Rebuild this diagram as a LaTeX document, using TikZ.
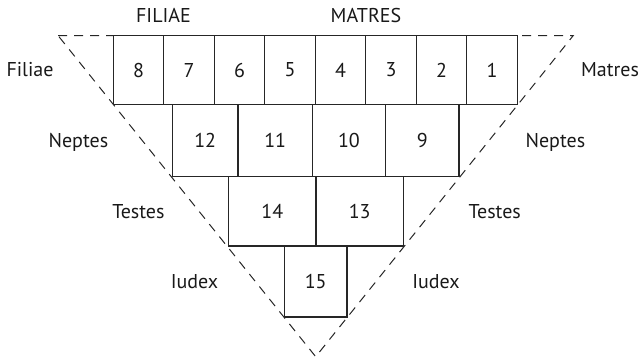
\documentclass[tikz,border=0pt]{standalone}
\usepackage{fontspec}
\setmainfont{PT Sans}
\begin{document}
\begin{tikzpicture}[x=1pt,y=-1pt,
  cell/.style={draw=black!85, line width=1.2pt, rectangle, inner sep=0pt, fill=white,
    font=\fontsize{20}{24}\selectfont, text=black!90},
  lab/.style={anchor=base, inner sep=0pt, font=\fontsize{20}{24}\selectfont, text=black!90},
  tri/.style={draw=black!85, line width=1pt, dash pattern=on 9pt off 7pt}]
\useasboundingbox (0,0) rectangle (643,362);
% dashed triangle
\coordinate (tl) at (58,35.5);
\coordinate (tr) at (573.3,35.5);
\coordinate (ap) at (315.7,356.7);
\draw[tri] (tl) -- (tr) -- (ap) -- cycle;
% row 1
\foreach \i/\x in {8/138.55,7/189.05,6/239.55,5/290.05,4/340.55,3/391.05,2/441.55,1/492.05}{
  \node[cell, minimum width=50.5pt, minimum height=69.2pt] (c\i) at (\x,70.1) {\i};
}
% row 2
\node[cell, minimum width=65.7pt, minimum height=72pt] (c12) at (205.15,140.7) {12};
\node[cell, minimum width=74.3pt, minimum height=72pt] (c11) at (275.15,140.7) {11};
\node[cell, minimum width=73.2pt, minimum height=72pt] (c10) at (348.9,140.7) {10};
\node[cell, minimum width=73.5pt, minimum height=72pt] (c9) at (422.25,140.7) {9};
% row 3
\node[cell, minimum width=87.4pt, minimum height=69.3pt] (c14) at (272.3,211.35) {14};
\node[cell, minimum width=87.3pt, minimum height=69.3pt] (c13) at (359.65,211.35) {13};
% row 4
\node[cell, minimum width=62.7pt, minimum height=71pt] (c15) at (315.65,281.5) {15};
% titles
\node[lab] (tF) at (163.5,22.7) {FILIAE};
\node[lab] (tM) at (366,22.7) {MATRES};
% side labels
\node[lab] (lF) at (30,76.7) {Filiae};
\node[lab] (rM) at (610,76.7) {Matres};
\node[lab] (lN) at (78.4,147.7) {Neptes};
\node[lab] (rN) at (555.4,147.7) {Neptes};
\node[lab] (lT) at (138.4,218.7) {Testes};
\node[lab] (rT) at (494.7,218.7) {Testes};
\node[lab] (lI) at (194.5,288.7) {Iudex};
\node[lab] (rI) at (436,288.7) {Iudex};
\end{tikzpicture}
\end{document}
